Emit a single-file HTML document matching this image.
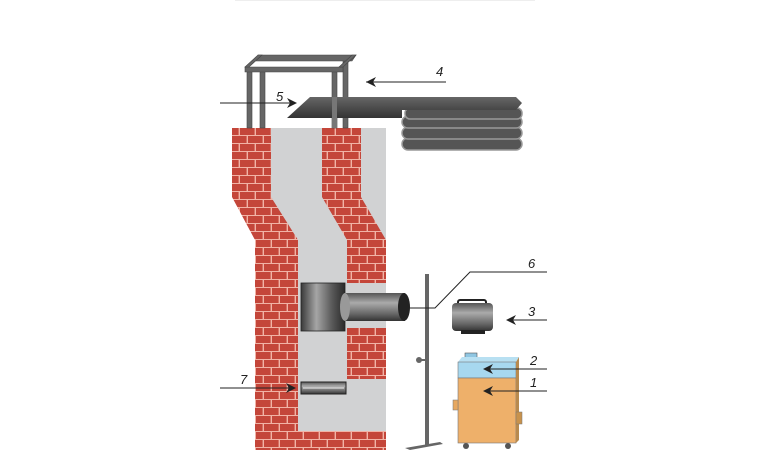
<!DOCTYPE html>
<html><head><meta charset="utf-8"><style>
html,body{margin:0;padding:0;background:#fff;width:770px;height:450px;overflow:hidden}
text{font-family:"Liberation Sans",sans-serif;font-style:italic;font-size:13px;fill:#222}
</style></head><body>
<svg width="770" height="450" viewBox="0 0 770 450" xmlns="http://www.w3.org/2000/svg">
<defs>
<pattern id="br" width="16" height="16" patternUnits="userSpaceOnUse">
<rect width="16" height="16" fill="#f1b3a6"/>
<rect x="0" y="0" width="14.6" height="7" fill="#c4463a"/>
<rect x="-8" y="8" width="14.6" height="7" fill="#c4463a"/>
<rect x="8" y="8" width="14.6" height="7" fill="#c4463a"/>
</pattern>
<linearGradient id="cyl" x1="0" x2="1">
<stop offset="0" stop-color="#3a3a3a"/><stop offset=".35" stop-color="#a5a5a5"/><stop offset=".7" stop-color="#5a5a5a"/><stop offset="1" stop-color="#2a2a2a"/>
</linearGradient>
<linearGradient id="cylh" x1="0" y1="0" x2="0" y2="1">
<stop offset="0" stop-color="#555"/><stop offset=".35" stop-color="#aaa"/><stop offset=".75" stop-color="#666"/><stop offset="1" stop-color="#333"/>
</linearGradient>
<linearGradient id="sheet" x1="0" y1="0" x2="0" y2="1">
<stop offset="0" stop-color="#666"/><stop offset="1" stop-color="#333"/>
</linearGradient>
</defs>
<line x1="235" y1="0.5" x2="535" y2="0.5" stroke="#eee"/>
<polygon points="271,128 386,128 386,450 255,450 255,240 271,240" fill="#d1d2d3"/>
<polygon points="232,128 271,128 271,197 298,240 298,431 386,431 386,450 255,450 255,240 232,197" fill="url(#br)"/>
<polygon points="322,128 361,128 361,197 386,240 386,283 347,283 347,240 322,197" fill="url(#br)"/>
<rect x="347" y="328" width="39" height="51" fill="url(#br)"/>
<g fill="#666" stroke="#444" stroke-width="0.6">
<rect x="247" y="70" width="5" height="58"/><rect x="260" y="70" width="5" height="58"/>
<rect x="332" y="70" width="5" height="58"/><rect x="343" y="60" width="5" height="68"/>
<polygon points="258,55 356,55 352,61 254,61"/>
<polygon points="245,67 343,67 343,72 245,72"/>
<polygon points="258,55 262,55 249,67 245,67"/>
<polygon points="352,55 356,55 343,67 339,67"/>
</g>
<g>
<rect x="402" y="138" width="120" height="12" rx="6" fill="#555" stroke="#999" stroke-width="1.5"/>
<rect x="402" y="127" width="120" height="12" rx="6" fill="#555" stroke="#999" stroke-width="1.5"/>
<rect x="402" y="116" width="120" height="12" rx="6" fill="#555" stroke="#999" stroke-width="1.5"/>
<rect x="405" y="108" width="117" height="11" rx="5" fill="#555" stroke="#999" stroke-width="1.5"/>
</g>
<polygon points="287,118 310,97 516,97 522,103 516,110 402,110 402,118" fill="url(#sheet)"/>
<rect x="332" y="97" width="5" height="31" fill="#777"/>
<rect x="301" y="283" width="44" height="48" fill="url(#cyl)" stroke="#222" stroke-width="0.8"/>
<rect x="345" y="293" width="60" height="28" fill="url(#cylh)"/>
<ellipse cx="345" cy="307" rx="5" ry="14" fill="#999"/>
<ellipse cx="404" cy="307" rx="6" ry="14" fill="#222"/>
<rect x="301" y="382" width="45" height="12" fill="url(#cylh)" stroke="#222"/>
<line x1="303" y1="388" x2="344" y2="388" stroke="#eee" stroke-width="1"/>
<rect x="425" y="274" width="4" height="171" fill="#666"/>
<polygon points="405,448 440,442 443,444 410,450" fill="#666"/>
<circle cx="419" cy="360" r="3" fill="#666"/>
<rect x="419" y="359" width="7" height="2" fill="#666"/>
<rect x="458" y="300" width="28" height="5" rx="2" fill="none" stroke="#222" stroke-width="2"/>
<rect x="452" y="303" width="41" height="28" rx="4" fill="url(#cylh)"/>
<rect x="461" y="330" width="24" height="4" fill="#222"/>
<rect x="465" y="353" width="12" height="9" fill="#8fc6e2" stroke="#555" stroke-width="0.6"/>
<polygon points="458,362 462,357 519,357 516,362" fill="#b8e0f2"/>
<rect x="458" y="362" width="58" height="16" fill="#a7d8ef" stroke="#777" stroke-width="0.6"/>
<rect x="458" y="378" width="58" height="65" fill="#eeb06a" stroke="#777" stroke-width="0.6"/>
<polygon points="516,362 519,357 519,440 516,443" fill="#b88a4e"/>
<rect x="453" y="400" width="5" height="10" fill="#e7a860" stroke="#777" stroke-width="0.5"/>
<rect x="516" y="412" width="6" height="12" fill="#c8924c" stroke="#777" stroke-width="0.5"/>
<circle cx="466" cy="446" r="3" fill="#555"/><circle cx="508" cy="446" r="3" fill="#555"/>
<g stroke="#222" stroke-width="1" fill="none">
<line x1="366" y1="82" x2="446" y2="82"/>
<line x1="220" y1="103" x2="292" y2="103"/>
<polyline points="403,308 435,308 470,272 547,272"/>
<line x1="508" y1="320" x2="547" y2="320"/>
<line x1="484" y1="369" x2="547" y2="369"/>
<line x1="484" y1="391" x2="547" y2="391"/>
<line x1="220" y1="388" x2="293" y2="388"/>
</g>
<g fill="#222">
<polygon points="366,82 376,77 373,82 376,87"/>
<polygon points="297,103 287,98 290,103 287,108"/>
<polygon points="399,308 409,303 406,308 409,313"/>
<polygon points="506,320 516,315 513,320 516,325"/>
<polygon points="483,369 493,364 490,369 493,374"/>
<polygon points="483,391 493,386 490,391 493,396"/>
<polygon points="296,388 286,383 289,388 286,393"/>
</g>
<text x="436" y="76">4</text>
<text x="276" y="101">5</text>
<text x="528" y="268">6</text>
<text x="528" y="316">3</text>
<text x="530" y="365">2</text>
<text x="530" y="387">1</text>
<text x="240" y="384">7</text>
</svg>
</body></html>
